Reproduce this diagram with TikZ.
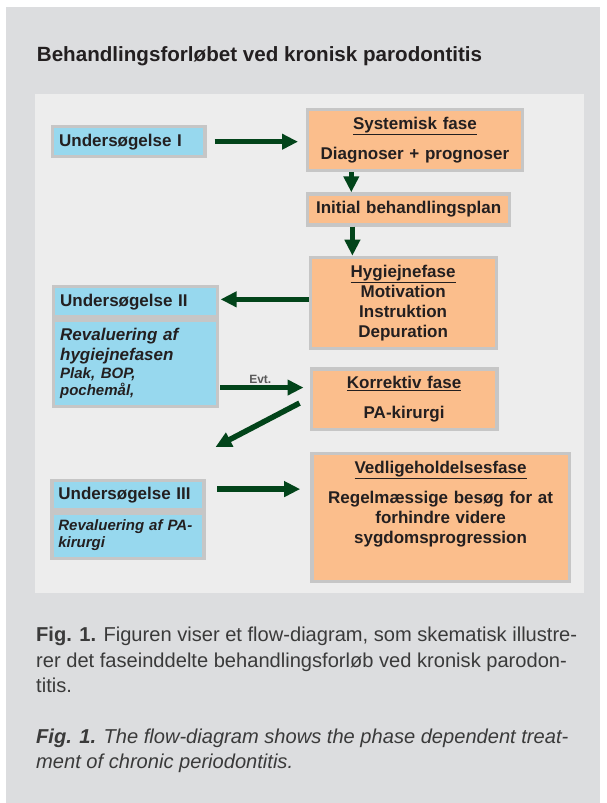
\documentclass[tikz,border=0pt]{standalone}
\usepackage{fontspec}
\setmainfont{Liberation Sans}
\usetikzlibrary{arrows.meta,positioning}
\definecolor{pagegray}{HTML}{DCDDDF}
\definecolor{panelgray}{HTML}{EDEDED}
\definecolor{framegray}{HTML}{C6C6C6}
\definecolor{examblue}{HTML}{97D8EE}
\definecolor{phaseorange}{HTML}{FBBE8C}
\definecolor{arrowgreen}{HTML}{02441A}
\definecolor{textdark}{HTML}{231F20}
\definecolor{captiongray}{HTML}{3A3A3A}

\begin{document}
\begin{tikzpicture}[x=1pt,y=-1pt]
    \tikzstyle{arrow} = [line width=5.5pt, -{Triangle[length=16pt,width=15pt]}, draw=arrowgreen]
    \tikzstyle{exam} = [rectangle, fill=examblue, draw=framegray, line width=3.3pt, anchor=north west, align=left, inner xsep=6.5pt, inner ysep=0pt, text=textdark, font=\fontsize{17}{20}\selectfont\bfseries]
    \tikzstyle{phase} = [rectangle, fill=phaseorange, draw=framegray, line width=3.3pt, anchor=north west, align=center, inner xsep=4pt, inner ysep=0pt, text=textdark, font=\fontsize{17}{20}\selectfont\bfseries]

    \fill[white] (0,0) rectangle (606,803);
    \fill[pagegray] (6,7) rectangle (600,803);
    \fill[panelgray] (35,94) rectangle (584,593);

    \node[anchor=base west, inner sep=0pt, text=textdark, font=\fontsize{20.6}{24}\selectfont\bfseries](Title) at (36.7,61){Behandlingsforløbet ved kronisk parodontitis};

    \node[exam, text width=139.4pt, minimum height=30.1pt](U1) at (51,125){Undersøgelse I};
    \node[phase, text width=206.5pt, minimum height=61.4pt](Sys) at (306,107.7){\underline{Systemisk fase}\\[10.6pt]Diagnoser + prognoser};
    \node[phase, text width=194pt, minimum height=31pt](Init) at (306,192.3){Initial behandlingsplan};
    \node[phase, text width=178pt, minimum height=91pt](Hyg) at (308.5,255.7){\underline{Hygiejnefase}\\Motivation\\Instruktion\\Depuration};

    \node[exam, text width=150.8pt, minimum height=30.4pt](U2) at (52,285){Undersøgelse II};
    \node[exam, text width=150.8pt, minimum height=86.4pt, below right=0pt and 0pt of U2.south west](R2){\itshape Revaluering af\\\itshape hygiejnefasen\\[-2pt]{\fontsize{15}{17}\selectfont\itshape Plak, BOP,}\\[-3pt]{\fontsize{15}{17}\selectfont\itshape pochemål,}};

    \node[phase, text width=177.9pt, minimum height=60.3pt](Kor) at (309.5,367.3){\underline{Korrektiv fase}\\[10pt]PA-kirurgi};

    \node[exam, text width=139pt, minimum height=28.9pt](U3) at (50.2,479){Undersøgelse III};
    \node[exam, text width=139pt, minimum height=45.5pt, below right=0pt and 0pt of U3.south west, font=\fontsize{15}{17}\selectfont\bfseries\itshape](R3){Revaluering af PA-\\kirurgi};

    \node[phase, text width=249.4pt, minimum height=128.4pt](Ved) at (310.2,451.7){\underline{Vedligeholdelsesfase}\\[10pt]Regelmæssige besøg for at\\forhindre videre\\sygdomsprogression\\[11pt]\mbox{}};

    \draw[arrow, shorten <=8pt, shorten >=8pt] (U1.east) -- (U1.east -| Sys.west);
    \draw[arrow] ([xshift=45.3pt]Sys.south west) -- ([xshift=45.3pt]Init.north west);
    \draw[arrow] ([xshift=46.4pt]Init.south west) -- ([xshift=46.4pt]Init.south west |- Hyg.north);
    \draw[arrow, shorten >=1.5pt] ([yshift=3.5pt]Hyg.west) -- ([yshift=3.5pt]Hyg.west -| U2.east);
    \draw[arrow, shorten <=1pt, shorten >=6pt] ([yshift=-24pt]R2.east) -- ([yshift=-24pt]R2.east -| Kor.west)
        node[midway, inner sep=0pt, anchor=base, yshift=4pt, xshift=-4pt, text=black!65, font=\fontsize{12}{14}\selectfont\bfseries]{Evt.};
    \draw[arrow] ([xshift=-10pt, yshift=-4pt]Kor.west) -- ([xshift=10pt, yshift=32pt]U3.north east);
    \draw[arrow, shorten <=11.8pt, shorten >=10pt] ([yshift=6pt]U3.east) -- ([yshift=6pt]U3.east -| Ved.west);

    \node[anchor=base west, inner sep=0pt, align=left, text=captiongray, font=\fontsize{20.1}{25.7}\selectfont](Cap) at (36,692.9){\textbf{Fig. 1.} Figuren viser et flow-diagram, som skematisk illustre-\\rer det faseinddelte behandlingsforløb ved kronisk parodon-\\titis.};
    \node[anchor=base west, inner sep=0pt, align=left, text=captiongray, font=\fontsize{20.1}{25.7}\selectfont\itshape](CapEn) at (36,768.7){\textbf{Fig. 1.} The flow-diagram shows the phase dependent treat-\\ment of chronic periodontitis.};
\end{tikzpicture}
\end{document}
